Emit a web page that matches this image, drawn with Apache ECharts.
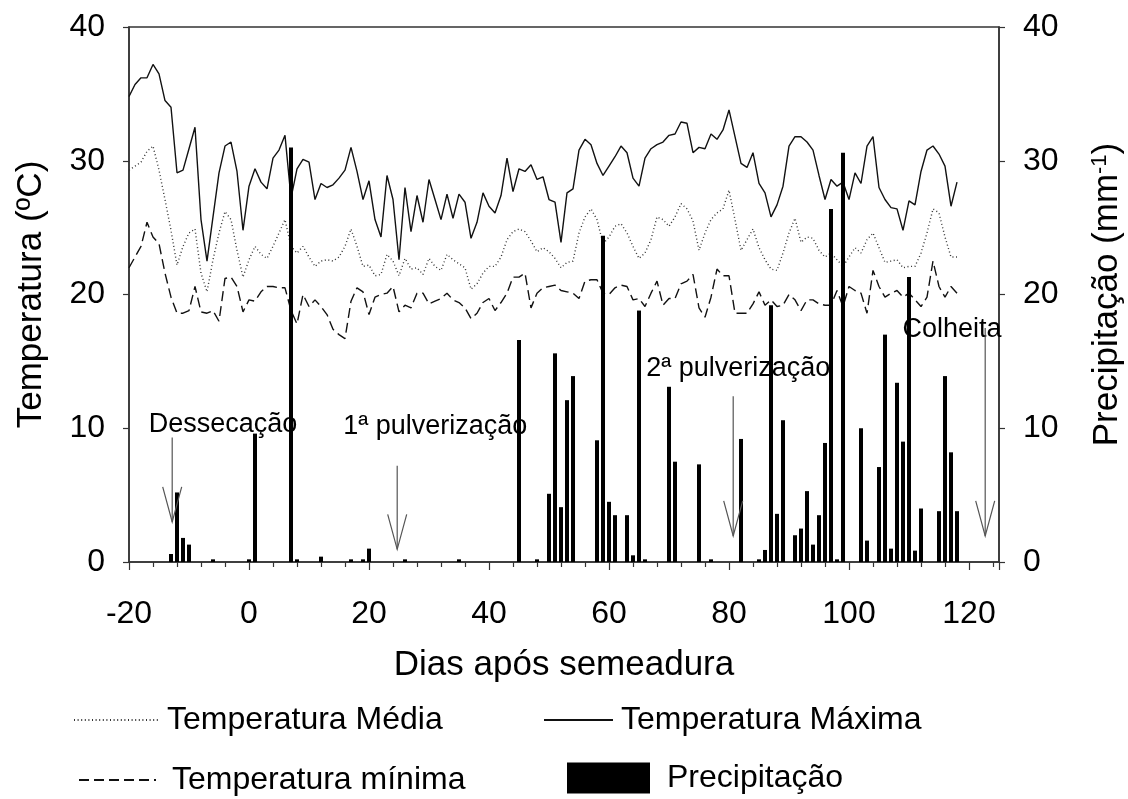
<!DOCTYPE html>
<html>
<head>
<meta charset="utf-8">
<script src="https://cdn.jsdelivr.net/npm/echarts@6/dist/echarts.min.js"></script>
<style>
html,body{margin:0;padding:0;background:#fff;}
#chart{width:1128px;height:799px;}
</style>
</head>
<body>
<div id="chart"></div>
<script>
// ---------- data ----------
const firstDay = -20;
const tMax = [34.8,35.7,36.2,36.2,37.2,36.5,34.5,34.0,29.1,29.3,30.9,32.5,25.6,22.5,25.8,29.1,31.1,31.4,29.2,24.8,
  28.1,29.4,28.4,27.9,30.2,30.8,31.9,27.2,29.4,30.1,29.9,27.1,28.3,28.0,28.2,28.7,29.3,31.0,29.2,27.1,
  28.5,25.6,24.3,28.9,27.1,22.6,28.0,24.7,27.4,25.4,28.6,27.1,25.6,27.5,25.7,27.5,26.9,24.2,25.4,27.6,
  26.6,26.1,27.4,30.2,27.7,29.4,29.2,29.7,28.6,28.8,27.1,26.9,23.9,27.6,27.9,30.8,31.6,31.2,29.8,28.9,
  29.6,30.3,31.1,30.6,28.7,28.1,30.2,30.9,31.2,31.4,31.9,32.0,32.9,32.8,30.6,31.0,30.9,32.0,31.6,32.3,
  33.8,31.8,29.8,29.5,30.6,28.3,27.6,25.8,26.7,28.1,31.1,31.8,31.8,31.4,30.8,28.9,27.1,28.6,28.1,28.4,
  27.1,29.1,28.3,31.1,31.8,28.0,27.1,26.5,26.4,24.8,27.0,26.7,29.2,30.8,31.1,30.5,29.6,26.6,28.4];
const tMed = [29.3,29.6,29.9,30.7,31.1,29.3,27.1,24.8,22.2,23.6,24.6,24.9,21.6,20.2,22.6,24.6,26.2,25.6,23.3,21.3,
  22.6,23.6,23.0,22.7,23.6,24.6,25.6,23.6,23.1,23.6,22.8,22.1,22.5,22.6,22.5,22.8,23.6,24.9,23.6,22.1,
  22.2,21.4,21.5,23.0,22.5,21.4,22.7,21.9,22.0,21.5,22.7,22.1,21.8,23.0,22.6,22.3,22.0,20.4,20.8,21.6,
  22.1,22.1,22.8,24.1,24.7,24.9,24.7,24.0,23.2,23.5,23.2,22.7,22.0,22.4,22.5,24.6,25.8,26.4,25.6,23.8,
  24.3,25.1,25.3,24.6,23.6,22.7,23.1,24.1,25.8,25.6,25.1,25.8,26.8,26.4,25.5,23.3,24.6,25.6,26.1,26.4,
  27.8,25.6,23.3,24.1,24.9,23.5,22.6,21.9,21.8,23.1,24.6,25.7,23.9,24.3,24.2,23.3,22.8,23.1,22.6,22.1,
  22.8,23.5,23.1,24.1,24.6,23.5,22.4,22.5,22.6,22.0,22.1,22.1,23.1,24.6,26.4,26.1,24.3,22.8,22.8];
const tMin = [22.0,22.8,23.6,25.4,24.3,23.8,21.6,19.8,18.6,18.6,18.8,20.6,18.7,18.6,18.8,18.0,21.2,21.3,20.6,18.7,
  19.6,19.5,20.2,20.6,20.6,20.5,20.5,18.8,17.8,20.0,19.1,19.6,19.1,18.5,17.4,17.0,16.7,19.5,20.5,20.2,
  18.5,19.8,20.0,20.1,20.6,18.7,19.2,19.0,20.1,20.1,19.3,19.5,19.7,20.1,19.6,19.4,19.0,18.2,18.6,19.4,
  19.7,18.8,19.4,20.1,21.3,21.3,21.6,19.0,20.1,20.5,20.6,20.7,20.3,20.2,20.1,19.7,21.0,21.1,21.1,20.1,
  20.0,20.5,20.7,20.6,19.6,19.7,19.1,20.1,21.0,19.2,19.7,19.7,20.8,21.0,21.5,19.0,18.3,19.8,21.9,21.4,
  21.4,18.6,18.6,18.6,19.3,20.2,19.2,19.6,19.1,19.2,20.0,19.6,18.8,19.6,19.6,19.3,19.2,19.2,20.3,19.1,
  20.6,20.3,20.1,18.6,21.8,20.6,19.8,20.1,20.3,19.8,20.1,19.6,19.1,19.8,22.5,20.6,19.8,20.6,20.1];
const rainDays = [-13,-12,-11,-10,-6,0,1,7,8,12,17,19,20,26,35,45,48,50,51,52,53,54,58,59,60,61,63,64,65,66,
  70,71,75,77,82,85,86,87,88,89,91,92,93,94,95,96,97,98,99,102,103,105,106,107,108,109,110,111,112,115,116,117,118];
const rainMm = [0.6,5.2,1.8,1.3,0.2,0.2,9.6,31.0,0.2,0.4,0.2,0.2,1.0,0.2,0.2,16.6,0.2,5.1,15.6,4.1,12.1,13.9,9.1,24.4,4.5,3.5,3.5,0.5,18.8,0.2,
  13.1,7.5,7.3,0.2,9.2,0.2,0.9,19.2,3.6,10.6,2.0,2.5,5.3,1.3,3.5,8.9,26.4,0.2,30.6,10.0,1.6,7.1,17.0,1.0,13.4,9.0,21.3,0.85,4.0,3.8,13.9,8.2,3.8];
const xTicks = [-20,0,20,40,60,80,100,120];
const yTicks = [0,10,20,30,40];
const seriesNames = ['Temperatura Média','Temperatura Máxima','Temperatura mínima','Precipitação'];
// annotations: label, text anchor [day, value], arrow day, arrow top value, arrow tip value
const notes = [
  {text:'Dessecação',      tx:-16.7, ty:10.25, ax:-12.8, top:9.3,  tip:3.0},
  {text:'1ª pulverização', tx:15.7,  ty:10.1,  ax:24.7,  top:7.2,  tip:0.95},
  {text:'2ª pulverização', tx:66.2,  ty:14.45, ax:80.7,  top:12.4, tip:1.95},
  {text:'Colheita',        tx:108.9, ty:17.35, ax:122.7, top:17.5, tip:1.95}
];

const pairs = arr => arr.map((v,i)=>[firstDay+i, v]);
const rain = rainDays.map((d,i)=>[d, rainMm[i]]);

const FONT = "'Liberation Sans', Arial, sans-serif";
const chart = echarts.init(document.getElementById('chart'), null, {renderer:'canvas'});

const axisLineStyle = {color:'#333', width:1.5};
const legendBase = (name, left, top, w, h, pad, isBar) => ({
  data:[isBar ? {name:name, icon:'rect'} : name], left:left, top:top, itemWidth:w, itemHeight:h, itemGap:0, padding:0,
  itemStyle: isBar ? {color:'#000'} : {opacity:0},
  textStyle:{fontFamily:FONT, fontSize:32, color:'#000', padding:[0,0,0,pad]},
  selectedMode:false
});

chart.setOption({
  animation:false,
  backgroundColor:'#fff',
  textStyle:{fontFamily:FONT},
  grid:{left:129, right:129, top:27, bottom:237, containLabel:false, outerBoundsMode:'none',
        show:true, borderColor:'#333', borderWidth:1.5, backgroundColor:'transparent'},
  legend:[
    legendBase(seriesNames[0], 73, 704, 85, 14, 3, false),
    legendBase(seriesNames[1], 543, 704, 69, 14, 3, false),
    legendBase(seriesNames[2], 78, 764, 77, 14, 11, false),
    legendBase(seriesNames[3], 567, 762, 83, 31, 12, true)
  ],
  xAxis:{
    type:'value', min:-20, max:125, interval:20,
    name:'Dias após semeadura', nameLocation:'middle', nameGap:86,
    nameTextStyle:{fontFamily:FONT, fontSize:35, color:'#000'},
    axisLine:{onZero:false, lineStyle:axisLineStyle},
    axisTick:{inside:false, length:8, lineStyle:{color:'#333', width:1.2}},
    minorTick:{show:true, splitNumber:5, length:5, lineStyle:{color:'#333', width:1.2}},
    axisLabel:{fontFamily:FONT, fontSize:32, color:'#000', margin:36,
      formatter:v => xTicks.indexOf(v) >= 0 ? String(v) : ''},
    splitLine:{show:false}
  },
  yAxis:[
    {type:'value', min:0, max:40, interval:10, position:'left',
     name:'Temperatura (ºC)', nameLocation:'middle', nameGap:80, nameRotate:90,
     nameTextStyle:{fontFamily:FONT, fontSize:35, color:'#000'},
     axisLine:{show:true, onZero:false, lineStyle:axisLineStyle},
     axisTick:{show:true, length:6, lineStyle:{color:'#333', width:1.2}},
     axisLabel:{fontFamily:FONT, fontSize:32, color:'#000', margin:24,
       formatter:v => yTicks.indexOf(v) >= 0 ? String(v) : ''},
     splitLine:{show:false}},
    {type:'value', min:0, max:40, interval:10, position:'right',
     name:'{a|Precipitação (mm}{s|-1}{a|)}', nameLocation:'middle', nameGap:90, nameRotate:90,
     nameTextStyle:{fontFamily:FONT, fontSize:35, color:'#000',
       rich:{a:{fontFamily:FONT, fontSize:35, color:'#000'}, s:{fontFamily:FONT, fontSize:22, color:'#000', verticalAlign:'top', padding:[0,0,14,0]}}},
     axisLine:{show:true, onZero:false, lineStyle:axisLineStyle},
     axisTick:{show:true, length:6, lineStyle:{color:'#333', width:1.2}},
     axisLabel:{fontFamily:FONT, fontSize:32, color:'#000', margin:24,
       formatter:v => yTicks.indexOf(v) >= 0 ? String(v) : ''},
     splitLine:{show:false}}
  ],
  series:[
    {name:seriesNames[0], type:'line', data:pairs(tMed), symbol:'none', z:3,
     lineStyle:{color:'#333', width:1.4, type:[1,2.6]}, itemStyle:{color:'#333'}},
    {name:seriesNames[1], type:'line', data:pairs(tMax), symbol:'none', z:3,
     lineStyle:{color:'#111', width:1.4, type:'solid'}, itemStyle:{color:'#111'}},
    {name:seriesNames[2], type:'line', data:pairs(tMin), symbol:'none', z:3,
     lineStyle:{color:'#111', width:1.4, type:[10,5]}, itemStyle:{color:'#111'}},
    {name:seriesNames[3], type:'bar', yAxisIndex:1, data:rain, barWidth:4, z:4,
     itemStyle:{color:'#000'}}
  ]
});

function drawNotes(){
  const g = [];
  notes.forEach(n=>{
    const tp = chart.convertToPixel({gridIndex:0}, [n.tx, n.ty]);
    const a1 = chart.convertToPixel({gridIndex:0}, [n.ax, n.top]);
    const a2 = chart.convertToPixel({gridIndex:0}, [n.ax, n.tip]);
    g.push({type:'text', z:10, style:{text:n.text, x:tp[0], y:tp[1], fill:'#000',
      font:"27px 'Liberation Sans', Arial, sans-serif", align:'left', verticalAlign:'middle'}});
    g.push({type:'polyline', z:10, shape:{points:[[a1[0],a1[1]],[a2[0],a2[1]]]},
      style:{stroke:'#555', lineWidth:1.2, fill:null}});
    g.push({type:'polyline', z:10, shape:{points:[[a2[0]-9.5,a2[1]-35],[a2[0],a2[1]],[a2[0]+9.5,a2[1]-35]]},
      style:{stroke:'#555', lineWidth:1.2, fill:null}});
  });
  chart.setOption({graphic:{elements:g}});
}
drawNotes();
</script>
</body>
</html>
